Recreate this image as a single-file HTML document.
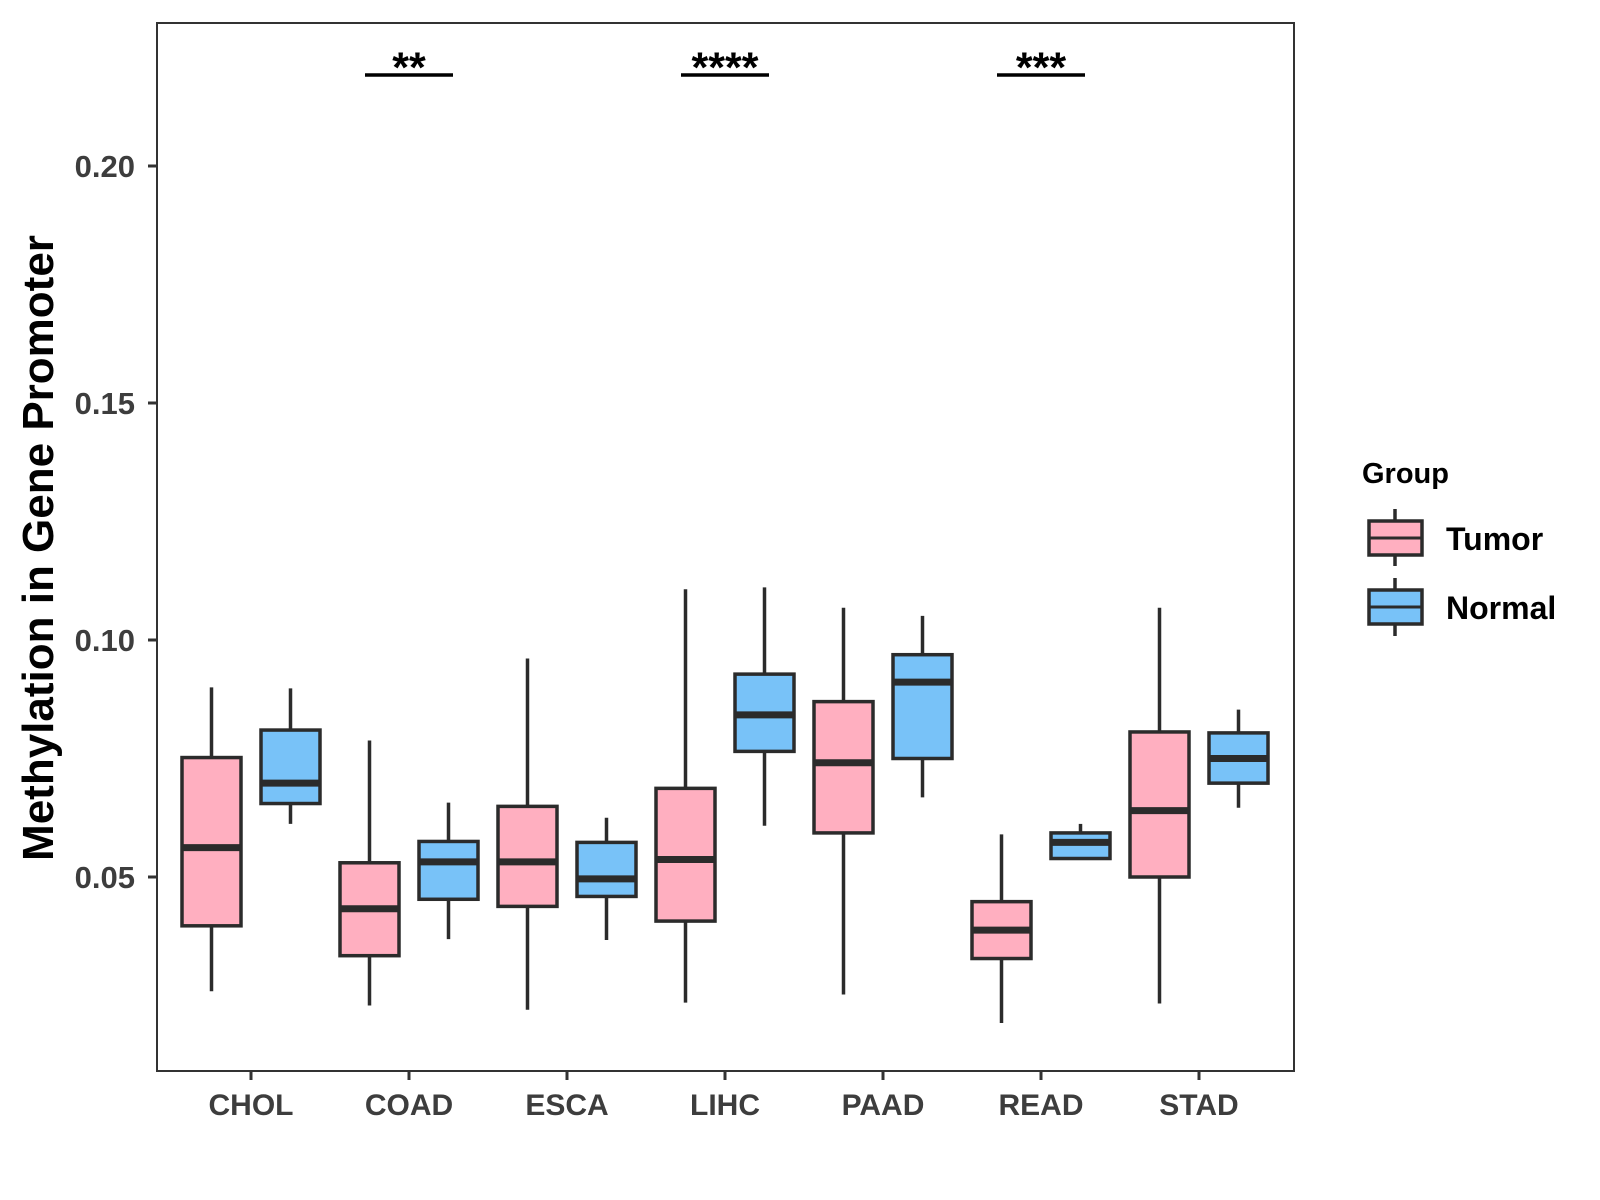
<!DOCTYPE html>
<html><head><meta charset="utf-8"><style>
html,body{margin:0;padding:0;background:#fff;}
svg{display:block;font-family:"Liberation Sans",Arial,sans-serif;font-weight:bold;}
</style></head><body>
<svg id="chart" width="1600" height="1200" viewBox="0 0 1600 1200">
<rect x="157" y="23" width="1137" height="1048" fill="#fff" stroke="#333" stroke-width="2"/>
<g id="marks"></g>
<g id="axes"></g>
<text x="0" y="0" transform="translate(53,548) rotate(-90)" text-anchor="middle" font-size="44" fill="#000">Methylation in Gene Promoter</text>
<g>
<text x="1362" y="483" font-size="29" fill="#000">Group</text>
<g>
<line x1="1395" y1="509" x2="1395" y2="566" stroke="#2b2b2b" stroke-width="3.5"/>
<rect x="1369" y="521" width="53" height="34" fill="#FFAFC0" stroke="#2b2b2b" stroke-width="3.5"/>
<line x1="1369" y1="538" x2="1422" y2="538" stroke="#2b2b2b" stroke-width="3"/>
<text x="1446" y="550" font-size="32" fill="#000">Tumor</text>
</g>
<g>
<line x1="1395" y1="578" x2="1395" y2="636" stroke="#2b2b2b" stroke-width="3.5"/>
<rect x="1369" y="590" width="53" height="34" fill="#78C2F8" stroke="#2b2b2b" stroke-width="3.5"/>
<line x1="1369" y1="607" x2="1422" y2="607" stroke="#2b2b2b" stroke-width="3"/>
<text x="1446" y="619" font-size="32" fill="#000">Normal</text>
</g>
</g>
</svg>
<script>
const categories=["CHOL","COAD","ESCA","LIHC","PAAD","READ","STAD"];
const tumorStats=[[0.0259,0.0397,0.0562,0.0752,0.0900],[0.0229,0.0334,0.0433,0.0530,0.0788],[0.0220,0.0438,0.0532,0.0649,0.0961],[0.0235,0.0407,0.0537,0.0687,0.1107],[0.0252,0.0593,0.0741,0.0870,0.1068],[0.0192,0.0328,0.0388,0.0448,0.0590],[0.0233,0.0500,0.0640,0.0806,0.1068]];
const normalStats=[[0.0612,0.0655,0.0698,0.0810,0.0898],[0.0369,0.0453,0.0532,0.0575,0.0657],[0.0367,0.0459,0.0496,0.0573,0.0625],[0.0608,0.0765,0.0842,0.0928,0.1111],[0.0668,0.0750,0.0911,0.0969,0.1051],[0.0539,0.0539,0.0573,0.0593,0.0612],[0.0646,0.0698,0.0750,0.0804,0.0853]];
const yTicks=[0.05,0.10,0.15,0.20];
const yTickLabels=["0.05","0.10","0.15","0.20"];
const sigCategories=["COAD","LIHC","READ"];
const sigLabels=["**","****","***"];
const sigLevel=0.2192;

const NS="http://www.w3.org/2000/svg";
const y=v=>877-(v-0.05)/0.05*237;
const x=i=>251+158*i;
const marks=document.getElementById('marks'),axes=document.getElementById('axes');
function mk(tag,attrs,parent){const e=document.createElementNS(NS,tag);for(const k in attrs)e.setAttribute(k,attrs[k]);parent.appendChild(e);return e;}
const stroke="#2b2b2b";
function box(cx,s,fill,name){
  const g=mk('g',{},marks);
  
  
  mk('line',{x1:cx,x2:cx,y1:y(s[0]),y2:y(s[4]),stroke:stroke,'stroke-width':3.5},g);
  mk('rect',{x:cx-29.5,y:y(s[3]),width:59,height:Math.max(y(s[1])-y(s[3]),0.1),fill:fill,stroke:stroke,'stroke-width':3.5},g);
  mk('line',{x1:cx-29.5,x2:cx+29.5,y1:y(s[2]),y2:y(s[2]),stroke:stroke,'stroke-width':7},g);
}
categories.forEach((c,i)=>{
  box(x(i)-39.5,tumorStats[i],"#FFAFC0","box-tumor-"+c.toLowerCase());
  box(x(i)+39.5,normalStats[i],"#78C2F8","box-normal-"+c.toLowerCase());
  mk('line',{x1:x(i),x2:x(i),y1:1071,y2:1080,stroke:"#333",'stroke-width':3},axes);
  const t=mk('text',{x:x(i),y:1115,'text-anchor':'middle','font-size':30,fill:'#3d3d3d'},axes);
  
  
  t.textContent=c;
});
yTicks.forEach((v,i)=>{
  mk('line',{x1:148,x2:157,y1:y(v),y2:y(v),stroke:"#333",'stroke-width':3},axes);
  const t=mk('text',{x:135,y:y(v)+11,'text-anchor':'end','font-size':31,fill:'#3d3d3d'},axes);
  
  
  t.textContent=yTickLabels[i];
});
sigCategories.forEach((c,k)=>{
  const i=categories.indexOf(c);
  const g=mk('g',{},marks);
  
  
  mk('line',{x1:x(i)-44,x2:x(i)+44,y1:y(sigLevel),y2:y(sigLevel),stroke:"#000",'stroke-width':3.5},g);
  const t=mk('text',{x:x(i),y:y(sigLevel)+7,'text-anchor':'middle','font-size':43,fill:'#000'},g);
  t.textContent=sigLabels[k];
});
</script>
</body></html>
